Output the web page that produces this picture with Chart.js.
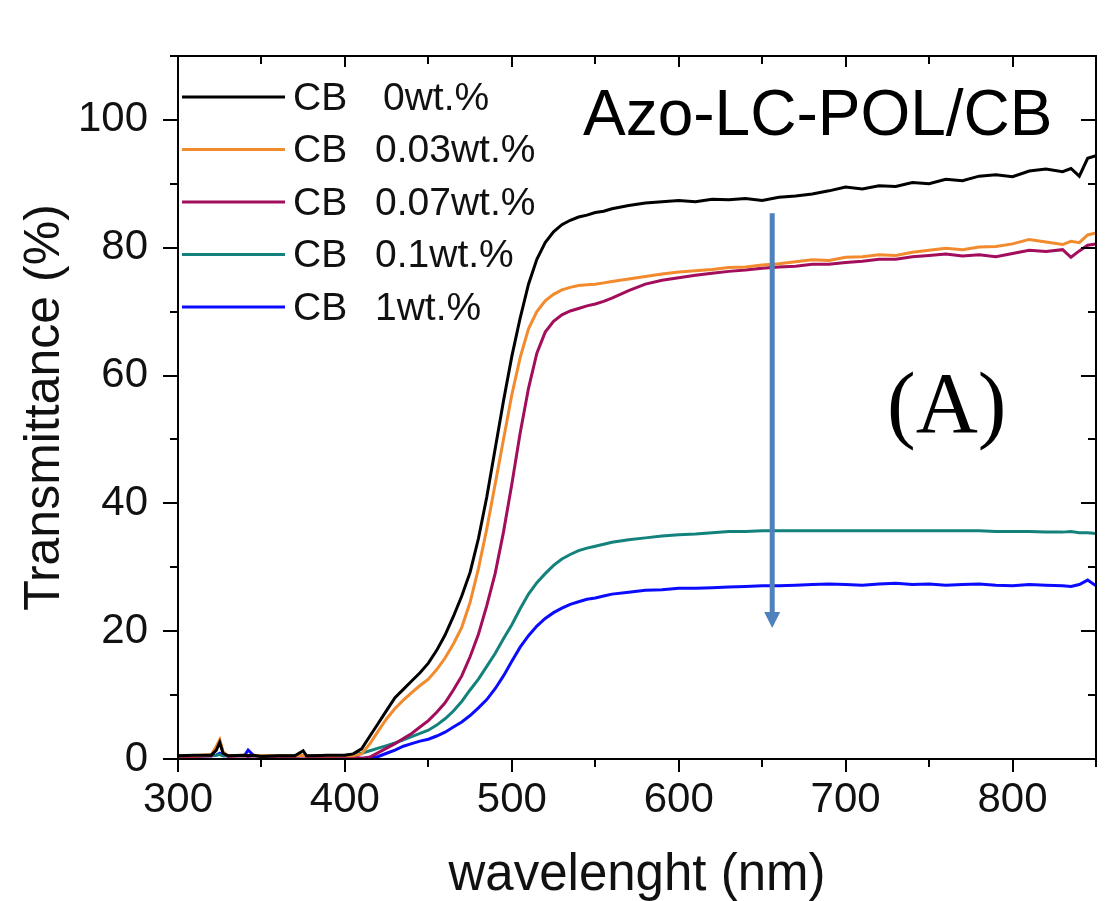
<!DOCTYPE html>
<html>
<head>
<meta charset="utf-8">
<script src="https://cdn.jsdelivr.net/npm/chart.js@4.4.0/dist/chart.umd.min.js"></script>
<style>
  html, body { margin: 0; padding: 0; background: #fff; }
  #wrap { width: 1119px; height: 901px; position: relative; }
</style>
</head>
<body>
<div id="wrap"><canvas id="chart"></canvas></div>
<script>
// Transmittance spectra, Azo-LC-POL/CB films
const wavelengths = [300,310,320,323,325,327,330,340,342,345,350,360,370,375,377,380,390,
  400,405,410,415,420,425,430,435,440,445,450,455,460,465,470,475,480,485,490,495,500,505,510,515,520,525,530,535,540,545,550,555,560,
  570,580,590,600,610,620,630,640,650,660,670,680,690,700,710,720,730,740,750,760,770,780,790,800,810,820,830,835,840,845,850];

const cb0 = [0.5,0.6,0.6,1.4,2.6,0.9,0.5,0.6,0.5,0.6,0.4,0.5,0.5,1.3,0.5,0.5,0.6,
  0.6,0.8,1.6,3.6,5.6,7.6,9.6,10.9,12.2,13.5,15.0,17.0,19.4,22.3,25.5,29.2,34.5,41.0,48.5,56.0,63.0,69.0,74.3,78.2,80.8,82.5,83.6,84.3,84.8,85.1,85.5,85.7,86.1,
  86.6,87.0,87.2,87.4,87.2,87.6,87.5,87.7,87.4,87.9,88.1,88.4,88.9,89.5,89.2,89.7,89.6,90.2,90.0,90.7,90.5,91.2,91.4,91.1,92.0,92.3,91.9,92.4,91.2,94.0,94.4];

const cb003 = [0.5,0.5,0.7,2.0,3.0,1.1,0.5,0.6,0.5,0.6,0.5,0.5,0.5,0.6,0.5,0.5,0.5,
  0.5,0.5,0.8,2.4,4.4,6.3,7.9,9.2,10.4,11.5,12.5,14.0,15.8,18.0,20.6,24.5,29.8,36.0,43.0,50.0,57.0,62.8,67.3,70.0,71.7,72.7,73.4,73.8,74.1,74.2,74.3,74.5,74.7,
  75.1,75.5,75.9,76.2,76.4,76.6,76.9,77.0,77.3,77.5,77.8,78.1,78.0,78.5,78.6,78.9,78.8,79.3,79.6,79.9,79.7,80.1,80.2,80.6,81.3,80.9,80.5,81.0,80.8,82.0,82.3];

const cb007 = [0.4,0.4,0.5,1.8,2.8,1.0,0.4,0.5,0.4,0.5,0.4,0.4,0.4,0.5,0.4,0.4,0.4,
  0.3,0.2,0.1,0.3,1.0,1.7,2.4,3.2,4.0,5.0,6.0,7.3,8.8,10.8,13.0,16.0,19.5,24.0,29.0,35.5,43.0,51.0,58.0,63.5,66.8,68.5,69.5,70.1,70.5,70.9,71.2,71.6,72.1,
  73.3,74.3,74.9,75.3,75.7,76.0,76.3,76.5,76.8,77.0,77.1,77.4,77.4,77.7,77.9,78.2,78.2,78.6,78.8,79.0,78.7,78.9,78.6,79.1,79.6,79.4,79.7,78.5,79.5,80.4,80.6];

const cb01 = [0.5,0.5,0.5,0.6,0.7,0.5,0.5,0.5,0.5,0.5,0.5,0.5,0.5,0.6,0.5,0.5,0.5,
  0.6,0.7,0.9,1.3,1.7,2.1,2.5,3.0,3.5,4.0,4.5,5.3,6.3,7.5,9.0,10.8,12.5,14.5,16.5,18.8,21.0,23.5,25.8,27.6,29.0,30.3,31.3,32.0,32.6,33.0,33.3,33.6,33.9,
  34.3,34.6,34.9,35.1,35.2,35.4,35.6,35.6,35.7,35.7,35.7,35.7,35.7,35.7,35.7,35.7,35.7,35.7,35.7,35.7,35.7,35.7,35.6,35.6,35.6,35.5,35.5,35.6,35.4,35.4,35.3];

const cb1 = [0.5,0.5,0.5,0.6,0.9,0.5,0.5,0.6,1.4,0.6,0.5,0.5,0.5,0.5,0.5,0.5,0.5,
  0.4,0.3,0.1,0.1,0.4,0.9,1.4,2.0,2.4,2.8,3.1,3.6,4.2,5.0,5.8,6.8,8.0,9.3,11.0,13.0,15.3,17.5,19.3,20.8,22.0,22.9,23.6,24.2,24.6,25.0,25.2,25.5,25.8,
  26.1,26.4,26.5,26.7,26.7,26.8,26.9,27.0,27.1,27.1,27.2,27.3,27.4,27.3,27.2,27.4,27.5,27.3,27.4,27.2,27.3,27.4,27.2,27.1,27.3,27.2,27.1,27.0,27.3,28.0,27.1];

const seriesValues = [cb0, cb003, cb007, cb01, cb1];
const seriesNames = ['0wt.%', '0.03wt.%', '0.07wt.%', '0.1wt.%', '1wt.%'];
const seriesColors = ['#000000', '#f28a2e', '#a20d5c', '#13827d', '#0b0bff'];

const xRange = [300, 850];
const yRange = [0, 110];
const xLabelStep = 100;
const yLabelStep = 20;

// arrow: CB content increasing
const arrowX = 656;
const arrowTop = 85.4;
const arrowTip = 20.5;

const SANS = '"Liberation Sans", Arial, sans-serif';

function seg(ctx, x1, y1, x2, y2) {
    ctx.beginPath();
    ctx.moveTo(x1, y1);
    ctx.lineTo(x2, y2);
    ctx.stroke();
}

const decor = {
    id: 'decor',
    afterDatasetsDraw(chart) {
        const { ctx, chartArea: a, scales: { x, y } } = chart;
        ctx.save();

        // frame + ticks (outside on bottom/left, inside on top/right)
        ctx.strokeStyle = '#000';
        ctx.lineWidth = 2;
        ctx.strokeRect(a.left, a.top, a.right - a.left, a.bottom - a.top);
        x.ticks.forEach(t => {
            const px = Math.round(x.getPixelForValue(t.value));
            const major = t.value % xLabelStep === 0;
            seg(ctx, px, a.bottom, px, a.bottom + (major ? 13 : 8));
            seg(ctx, px, a.top, px, a.top + (major ? 11 : 8));
        });
        y.ticks.forEach(t => {
            const py = Math.round(y.getPixelForValue(t.value));
            const major = t.value % yLabelStep === 0;
            seg(ctx, a.left - (major ? 15 : 8), py, a.left, py);
            seg(ctx, a.right - (major ? 15 : 8), py, a.right, py);
        });

        // arrow
        const ax = x.getPixelForValue(arrowX);
        const ay1 = y.getPixelForValue(arrowTop);
        const ay2 = y.getPixelForValue(arrowTip);
        ctx.strokeStyle = '#4f81bd';
        ctx.fillStyle = '#4f81bd';
        ctx.lineWidth = 5;
        seg(ctx, ax, ay1, ax, ay2 - 12);
        ctx.beginPath();
        ctx.moveTo(ax - 8, ay2 - 16);
        ctx.lineTo(ax + 8, ay2 - 16);
        ctx.lineTo(ax, ay2);
        ctx.closePath();
        ctx.fill();

        // legend in the upper left corner
        ctx.lineWidth = 3;
        ctx.font = '39px ' + SANS;
        ctx.fillStyle = '#111';
        ctx.textBaseline = 'middle';
        chart.data.datasets.forEach((ds, i) => {
            const ly = a.top + 41 + i * 52.5;
            ctx.strokeStyle = ds.borderColor;
            seg(ctx, a.left + 4, ly, a.left + 107, ly);
            ctx.fillText('CB', a.left + 115, ly + 2);
            ctx.fillText(seriesNames[i], a.left + (i === 0 ? 205 : 197), ly + 2);
        });

        // annotations
        ctx.textBaseline = 'alphabetic';
        ctx.fillStyle = '#000';
        ctx.font = '64px ' + SANS;
        ctx.fillText('Azo-LC-POL/CB', a.left + 405, a.top + 79);
        ctx.font = '86px "Liberation Serif", "Times New Roman", serif';
        ctx.fillText('(A)', a.left + 709, a.top + 376);

        ctx.restore();
    }
};

const datasets = seriesValues.map((vals, i) => ({
    label: 'CB ' + seriesNames[i],
    data: wavelengths.map((w, j) => ({ x: w, y: vals[j] })),
    borderColor: seriesColors[i],
    backgroundColor: seriesColors[i],
    borderWidth: 3,
    pointRadius: 0,
    tension: 0
}));

Chart.defaults.font.family = SANS;
Chart.defaults.color = '#111';

new Chart(document.getElementById('chart'), {
    type: 'line',
    data: { datasets },
    options: {
        responsive: true,
        maintainAspectRatio: false,
        animation: false,
        layout: { padding: { top: 56, right: 23, left: 0, bottom: 0 } },
        plugins: {
            legend: { display: false },
            tooltip: { enabled: false }
        },
        scales: {
            x: {
                type: 'linear',
                min: xRange[0],
                max: xRange[1],
                grid: { display: false, drawTicks: false },
                border: { display: false },
                ticks: {
                    stepSize: 50,
                    padding: 16,
                    maxRotation: 0,
                    autoSkip: false,
                    font: { size: 42 },
                    color: '#111',
                    callback: v => (v % xLabelStep === 0 && v < xRange[1] ? v : '')
                },
                title: {
                    display: true,
                    text: 'wavelenght (nm)',
                    font: { size: 51, lineHeight: 1 },
                    color: '#111',
                    padding: { top: 0, bottom: 0 }
                },
                afterFit: s => { s.height = 142; }
            },
            y: {
                min: yRange[0],
                max: yRange[1],
                grid: { display: false, drawTicks: false },
                border: { display: false },
                ticks: {
                    stepSize: 10,
                    padding: 30,
                    autoSkip: false,
                    font: { size: 42 },
                    color: '#111',
                    callback: v => (v % yLabelStep === 0 && v <= 100 ? v : '')
                },
                title: {
                    display: true,
                    text: 'Transmittance (%)',
                    font: { size: 50, lineHeight: 1 },
                    color: '#111',
                    padding: { top: 20, bottom: 0 }
                },
                afterFit: s => { s.width = 178; }
            }
        }
    },
    plugins: [decor]
});
</script>
</body>
</html>
